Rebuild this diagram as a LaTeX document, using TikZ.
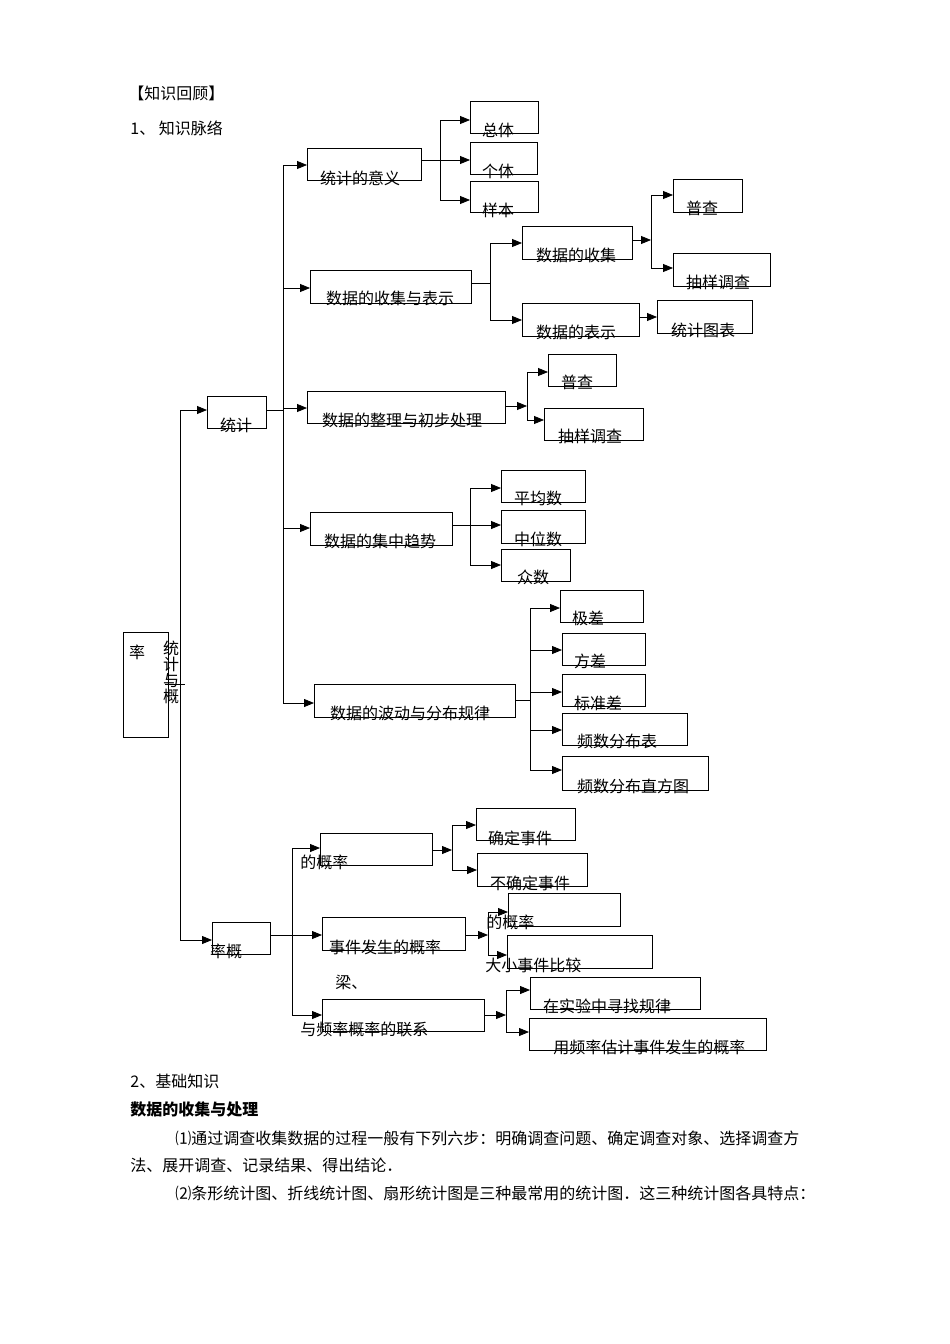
\documentclass[tikz,border=0pt]{standalone}
\usepackage{fontspec}
\setmainfont{Noto Sans CJK SC}
\usetikzlibrary{arrows.meta}
\begin{document}
\begin{tikzpicture}[x=1pt,y=-1pt,line width=0.8pt,
  box/.style={draw,inner sep=0,outer sep=0},
  arr/.style={-{Triangle[length=10pt,width=8pt]}},
  t/.style={anchor=base,inner sep=0,font=\fontsize{16}{17}\selectfont}]
\useasboundingbox (0,0) rectangle (950,1344);
\newcommand\bx[5]{\node[box,minimum width={(#4-#2)*1pt},minimum height={(#5-#3)*1pt}] (#1) at ({(#2+#4)/2},{(#3+#5)/2}) {};}
\newcommand\tx[3]{\node[t] at (#1,#2) {#3};}
\newcommand\tl[3]{\node[t,anchor=base west] at (#1,#2) {#3};}
% header
\tl{128}{99}{【知识回顾】}
\tl{130}{134}{1、 知识脉络}
% root
\bx{root}{123}{632}{168}{737}
\tx{137}{658}{率}
\node[t,align=center,font=\fontsize{16}{16}\selectfont,anchor=north] at (171,641) {统\\计\\与\\概};
\draw (165,684) -- (185,684);
\draw (180,410) -- (180,940);
\bx{tj}{207}{396}{266}{428}
\tx{236}{431}{统计}
\bx{gl}{212}{922}{270}{954}
\tx{226}{957}{率概}
\draw[arr] (180,410) -- (tj.west|-0,410);
\draw[arr] (180,940) -- (gl.west|-0,940);
% statistics level 2
\draw (266,410) -- (283,410);
\draw (283,165) -- (283,703);
\bx{s1}{307}{148}{421}{180}\tx{360}{184}{统计的意义}
\bx{s2}{310}{270}{471}{303}\tx{390}{304}{数据的收集与表示}
\bx{s3}{307}{391}{505}{423}\tx{402}{426}{数据的整理与初步处理}
\bx{s4}{310}{512}{452}{545}\tx{380}{547}{数据的集中趋势}
\bx{s5}{314}{684}{515}{717}\tx{410}{719}{数据的波动与分布规律}
\draw[arr] (283,165) -- (s1.west|-0,165);
\draw[arr] (283,288) -- (s2.west|-0,288);
\draw[arr] (283,408) -- (s3.west|-0,408);
\draw[arr] (283,528) -- (s4.west|-0,528);
\draw[arr] (283,703) -- (s5.west|-0,703);
% s1
\draw (s1.east|-0,160) -- (440,160); \draw (440,120) -- (440,200);
\bx{a1}{470}{101}{538}{133}\tx{498}{136}{总体}
\bx{a2}{470}{142}{537}{174}\tx{498}{177}{个体}
\bx{a3}{470}{181}{538}{212}\tx{498}{216}{样本}
\draw[arr] (440,120)--(a1.west|-0,120);
\draw[arr] (440,160)--(a2.west|-0,160);
\draw[arr] (440,200)--(a3.west|-0,200);
% s2
\draw (s2.east|-0,283) -- (490,283); \draw (490,243) -- (490,320);
\bx{b1}{522}{226}{632}{259}\tx{576}{261}{数据的收集}
\bx{b2}{522}{303}{639}{336}\tx{576}{338}{数据的表示}
\draw[arr] (490,243)--(b1.west|-0,243);
\draw[arr] (490,320)--(b2.west|-0,320);
\draw[arr] (b1.east|-0,240) -- (651,240); \draw (651,195) -- (651,268);
\bx{c1}{673}{179}{742}{212}\tx{702}{214}{普查}
\bx{c2}{673}{253}{770}{286}\tx{718}{288}{抽样调查}
\draw[arr] (651,195)--(c1.west|-0,195);
\draw[arr] (651,268)--(c2.west|-0,268);
\bx{c3}{657}{300}{752}{333}\tx{703}{336}{统计图表}
\draw[arr] (b2.east|-0,317)--(c3.west|-0,317);
% s3
\draw[arr] (s3.east|-0,406) -- (527,406); \draw (527,372) -- (527,420);
\bx{d1}{548}{354}{616}{386}\tx{577}{388}{普查}
\bx{d2}{544}{408}{643}{440}\tx{590}{442}{抽样调查}
\draw[arr] (527,372)--(d1.west|-0,372);
\draw[arr] (527,420)--(d2.west|-0,420);
% s4
\draw (s4.east|-0,525) -- (470,525); \draw (470,488) -- (470,565);
\bx{e1}{501}{470}{585}{502}\tx{538}{504}{平均数}
\bx{e2}{501}{510}{585}{543}\tx{538}{545}{中位数}
\bx{e3}{501}{549}{570}{581}\tx{533}{583}{众数}
\draw[arr] (470,488)--(e1.west|-0,488);
\draw[arr] (470,525)--(e2.west|-0,525);
\draw[arr] (470,565)--(e3.west|-0,565);
% s5
\draw (s5.east|-0,700) -- (530,700); \draw (530,608) -- (530,770);
\bx{f1}{560}{590}{643}{622}\tx{588}{624}{极差}
\bx{f2}{562}{633}{645}{665}\tx{590}{667}{方差}
\bx{f3}{562}{674}{645}{706}\tx{598}{709}{标准差}
\bx{f4}{562}{713}{687}{745}\tx{617}{747}{频数分布表}
\bx{f5}{562}{756}{708}{790}\tx{633}{792}{频数分布直方图}
\draw[arr] (530,608)--(f1.west|-0,608);
\draw[arr] (530,650)--(f2.west|-0,650);
\draw[arr] (530,692)--(f3.west|-0,692);
\draw[arr] (530,730)--(f4.west|-0,730);
\draw[arr] (530,770)--(f5.west|-0,770);
% probability
\draw (gl.east|-0,935) -- (292,935);
\draw (292,848) -- (292,1015);
\bx{p1}{320}{833}{432}{865}
\bx{p2}{322}{917}{465}{950}
\bx{p3}{322}{999}{484}{1031}
\tl{300}{868}{的概率}
\tx{385}{953}{事件发生的概率}
\tl{335}{988}{梁、}
\tl{300}{1035}{与频率概率的联系}
\draw[arr] (292,848)--(p1.west|-0,848);
\draw[arr] (292,935)--(p2.west|-0,935);
\draw[arr] (292,1015)--(p3.west|-0,1015);
% p1
\draw[arr] (p1.east|-0,850) -- (452,850); \draw (452,825) -- (452,870);
\bx{g1}{476}{808}{575}{840}\tx{520}{844}{确定事件}
\bx{g2}{477}{853}{587}{886}\tx{530}{889}{不确定事件}
\draw[arr] (452,825)--(g1.west|-0,825);
\draw[arr] (452,870)--(g2.west|-0,870);
% p2
\draw[arr] (p2.east|-0,935) -- (488,935); \draw (488,912) -- (488,955);
\bx{h1}{508}{893}{620}{926}
\bx{h2}{507}{935}{652}{968}
\tl{486}{928}{的概率}
\tl{485}{971}{大小事件比较}
\draw[arr] (488,912)--(h1.west|-0,912);
\draw[arr] (488,955)--(h2.west|-0,955);
% p3
\draw[arr] (p3.east|-0,1015) -- (506,1015); \draw (506,990) -- (506,1032);
\bx{k1}{530}{977}{700}{1009}\tx{607}{1012}{在实验中寻找规律}
\bx{k2}{529}{1018}{766}{1050}\tl{553}{1053}{用频率估计事件发生的概率}
\draw[arr] (506,990)--(k1.west|-0,990);
\draw[arr] (506,1032)--(k2.west|-0,1032);
% text below
\tl{130}{1087}{2、基础知识}
\node[t,anchor=base west,font=\fontsize{16}{17}\selectfont\bfseries] at (130,1115) {数据的收集与处理};
\tl{175}{1144}{⑴通过调查收集数据的过程一般有下列六步：明确调查问题、确定调查对象、选择调查方}
\tl{130}{1171}{法、展开调查、记录结果、得出结论．}
\tl{175}{1199}{⑵条形统计图、折线统计图、扇形统计图是三种最常用的统计图．这三种统计图各具特点：}
\end{tikzpicture}
\end{document}
